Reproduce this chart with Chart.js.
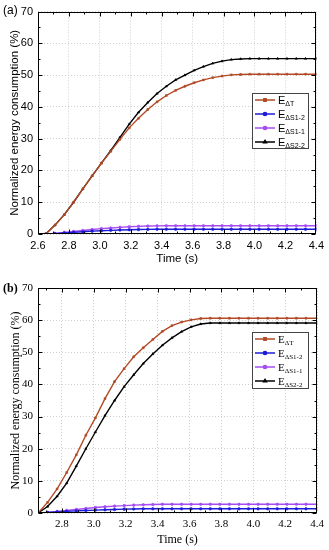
<!DOCTYPE html>
<html>
<head>
<meta charset="utf-8">
<script src="https://cdn.jsdelivr.net/npm/chart.js@4.4.0/dist/chart.umd.min.js"></script>
<style>
  html, body { margin: 0; padding: 0; background: #fff; }
  .panel { position: absolute; left: 0; width: 329px; height: 275px; }
</style>
</head>
<body>
<div class="panel" style="top:0"><canvas id="chartA" width="329" height="275"></canvas></div>
<div class="panel" style="top:275px"><canvas id="chartB" width="329" height="275"></canvas></div>
<script>
// ===== datos =====
const tiempos = [2.65, 2.71, 2.77, 2.83, 2.89, 2.95, 3.01, 3.07, 3.13, 3.19,
                 3.25, 3.31, 3.37, 3.43, 3.49, 3.55, 3.61, 3.67, 3.73, 3.79,
                 3.85, 3.91, 3.97, 4.03, 4.09, 4.15, 4.21, 4.27, 4.33, 4.40];
const subindices = ['ΔT', 'ΔS1-2', 'ΔS1-1', 'ΔS2-2'];

// panel (a)
const aDeltaT  = [0, 2.8, 6.1, 10.0, 14.2, 18.3, 22.3, 26.0, 29.8, 33.4,
                  36.4, 39.2, 41.6, 43.6, 45.2, 46.5, 47.6, 48.5, 49.2, 49.7,
                  50.1, 50.2, 50.3, 50.3, 50.3, 50.3, 50.3, 50.3, 50.3, 50.3];
const aDeltaS12 = [0, 0.1, 0.3, 0.5, 0.7, 0.9, 1.0, 1.15, 1.25, 1.35,
                   1.4, 1.45, 1.5, 1.5, 1.5, 1.5, 1.5, 1.5, 1.5, 1.5,
                   1.5, 1.5, 1.5, 1.5, 1.5, 1.5, 1.5, 1.5, 1.5, 1.5];
const aDeltaS11 = [0, 0.2, 0.5, 0.8, 1.1, 1.4, 1.7, 1.9, 2.1, 2.3,
                   2.4, 2.5, 2.55, 2.6, 2.6, 2.6, 2.6, 2.6, 2.6, 2.6,
                   2.6, 2.6, 2.6, 2.6, 2.6, 2.6, 2.6, 2.6, 2.6, 2.6];
const aDeltaS22 = [0, 2.8, 6.1, 10.0, 14.2, 18.3, 22.3, 26.2, 30.4, 34.6,
                   38.3, 41.4, 44.2, 46.5, 48.5, 50.0, 51.5, 52.7, 53.7, 54.4,
                   54.9, 55.1, 55.2, 55.2, 55.2, 55.2, 55.2, 55.2, 55.2, 55.2];

// panel (b)
const bDeltaT  = [0, 3.3, 7.5, 12.6, 18.1, 24.2, 29.6, 35.6, 40.9, 44.9,
                  48.6, 51.4, 54.0, 56.5, 58.3, 59.4, 60.1, 60.5, 60.6, 60.6,
                  60.6, 60.6, 60.6, 60.6, 60.6, 60.6, 60.6, 60.6, 60.6, 60.6];
const bDeltaS12 = [0, 0.15, 0.3, 0.5, 0.65, 0.8, 0.9, 1.0, 1.1, 1.2,
                   1.25, 1.3, 1.3, 1.3, 1.3, 1.3, 1.3, 1.3, 1.3, 1.3,
                   1.3, 1.3, 1.3, 1.3, 1.3, 1.3, 1.3, 1.3, 1.3, 1.3];
const bDeltaS11 = [0, 0.2, 0.5, 0.8, 1.1, 1.4, 1.7, 1.95, 2.15, 2.3,
                   2.45, 2.55, 2.65, 2.7, 2.7, 2.7, 2.7, 2.7, 2.7, 2.7,
                   2.7, 2.7, 2.7, 2.7, 2.7, 2.7, 2.7, 2.7, 2.7, 2.7];
const bDeltaS22 = [0, 2.0, 5.2, 9.3, 14.6, 20.0, 25.2, 30.3, 35.0, 39.3,
                   43.0, 46.5, 49.5, 52.2, 54.5, 56.4, 57.9, 58.8, 59.1, 59.1,
                   59.1, 59.1, 59.1, 59.1, 59.1, 59.1, 59.1, 59.1, 59.1, 59.1];

// ticks
const xTicksA = [2.6, 2.8, 3.0, 3.2, 3.4, 3.6, 3.8, 4.0, 4.2, 4.4];
const xTicksB = [2.8, 3.0, 3.2, 3.4, 3.6, 3.8, 4.0, 4.2, 4.4];
const yTicks  = [0, 10, 20, 30, 40, 50, 60, 70];

// colores y marcadores de las series
const colores = ['#b24a26', '#1c1cd8', '#a64cf2', '#000000'];
const marcadores = ['rect', 'circle', 'circle', 'triangle'];

// Plugin: marco, ticks hacia dentro, leyenda con subindices y etiqueta del panel
const panelPlugin = {
    id: 'panel',
    afterDraw(chart, args, opts) {
        const ctx = chart.ctx;
        const ca = chart.chartArea;
        const xs = chart.scales.x, ys = chart.scales.y;
        const L = Math.round(ca.left) + 0.5, R = Math.round(ca.right) - 0.5;
        const T = Math.round(ca.top) + 0.5, B = Math.round(ca.bottom) - 0.5;
        ctx.save();
        ctx.strokeStyle = '#000';
        ctx.lineWidth = 1;
        ctx.strokeRect(L, T, R - L, B - T);

        // ticks mayores y menores
        const marcar = (vals, len, horiz) => {
            vals.forEach(v => {
                ctx.beginPath();
                if (horiz) {
                    const p = Math.round(xs.getPixelForValue(v)) + 0.5;
                    if (p < L - 0.5 || p > R + 0.5) return;
                    ctx.moveTo(p, B); ctx.lineTo(p, B - len);
                    ctx.moveTo(p, T); ctx.lineTo(p, T + len);
                } else {
                    const p = Math.round(ys.getPixelForValue(v)) + 0.5;
                    ctx.moveTo(L, p); ctx.lineTo(L + len, p);
                    ctx.moveTo(R, p); ctx.lineTo(R - len, p);
                }
                ctx.stroke();
            });
        };
        const menores = (vals, min, max) => {
            const paso = vals[1] - vals[0];
            const out = [];
            out.push(vals[0] - paso / 2);
            vals.forEach(v => out.push(v + paso / 2));
            return out.filter(v => v > min && v < max);
        };
        const xv = xs.ticks.map(t => t.value);
        const yv = ys.ticks.map(t => t.value);
        marcar(xv, 4, true);
        marcar(yv, 4, false);
        marcar(menores(xv, xs.min, xs.max), 2, true);
        marcar(menores(yv, ys.min, ys.max), 2, false);

        // leyenda
        const lg = opts.legend;
        ctx.fillStyle = '#fff';
        ctx.fillRect(lg.left, lg.top, lg.width, lg.height);
        ctx.strokeStyle = '#444';
        ctx.strokeRect(lg.left + 0.5, lg.top + 0.5, lg.width, lg.height);
        chart.data.datasets.forEach((ds, i) => {
            const yy = lg.top + lg.first + i * lg.row;
            ctx.strokeStyle = ds.borderColor;
            ctx.fillStyle = ds.borderColor;
            ctx.lineWidth = 1.5;
            ctx.beginPath();
            ctx.moveTo(lg.left + 3, yy);
            ctx.lineTo(lg.left + 23, yy);
            ctx.stroke();
            if (Chart.helpers && Chart.helpers.drawPoint) {
                Chart.helpers.drawPoint(ctx, {pointStyle: ds.pointStyle, radius: 1.6, rotation: 0, borderWidth: 1}, lg.left + 13, yy);
            }
            ctx.fillStyle = '#000';
            ctx.textBaseline = 'alphabetic';
            ctx.font = lg.font;
            ctx.fillText('E', lg.left + 26, yy + 4);
            const wE = ctx.measureText('E').width;
            ctx.font = lg.subFont;
            ctx.fillText(subindices[i], lg.left + 26 + wE, yy + 6);
        });

        // etiqueta del panel
        ctx.fillStyle = '#000';
        ctx.font = opts.labelFont;
        ctx.textBaseline = 'alphabetic';
        ctx.fillText(opts.label, 3, opts.labelY);
        ctx.restore();
    }
};

function crearDatasets(series) {
    return series.map((vals, i) => ({
        label: 'E' + subindices[i],
        data: tiempos.map((t, k) => ({x: t, y: vals[k]})),
        borderColor: colores[i],
        backgroundColor: colores[i],
        pointStyle: marcadores[i],
        pointRadius: 1.3,
        pointBorderWidth: 0.6,
        borderWidth: 1.4,
        tension: 0
    }));
}

// Funcion para crear cada panel
function crearGrafico(id, series, cfg) {
    const fuente = {family: cfg.family, size: 11};
    const fuenteTitulo = {family: cfg.family, size: cfg.titleSize};
    return new Chart(document.getElementById(id), {
        type: 'line',
        data: { datasets: crearDatasets(series) },
        plugins: [panelPlugin],
        options: {
            responsive: false,
            animation: false,
            events: [],
            layout: { padding: {top: cfg.padTop, right: 11, left: 0, bottom: 0} },
            plugins: {
                legend: { display: false },
                tooltip: { enabled: false },
                panel: cfg.panel
            },
            scales: {
                x: {
                    type: 'linear',
                    min: cfg.xMin, max: 4.4,
                    afterBuildTicks: s => { s.ticks = cfg.xTicks.map(v => ({value: v})); },
                    afterFit: s => { s.height = cfg.xHeight; },
                    grid: { color: '#cfcfcf', lineWidth: 1, drawTicks: false },
                    border: { display: false, dash: [1, 2] },
                    ticks: {
                        color: '#000', font: fuente, padding: 5, maxRotation: 0,
                        callback: v => Number(v).toFixed(1)
                    },
                    title: {
                        display: true, text: 'Time (s)', color: '#000', font: fuenteTitulo,
                        padding: {top: 0, bottom: cfg.xTitlePad}
                    }
                },
                y: {
                    min: 0, max: 70,
                    afterBuildTicks: s => { s.ticks = yTicks.map(v => ({value: v})); },
                    afterFit: s => { s.width = 38; },
                    grid: { color: '#cfcfcf', lineWidth: 1, drawTicks: false },
                    border: { display: false, dash: [1, 2] },
                    ticks: { color: '#000', font: fuente, padding: 5 },
                    title: {
                        display: true, text: 'Normalized energy consumption (%)', color: '#000', font: fuenteTitulo,
                        padding: {top: cfg.yTitlePad, bottom: 0}
                    }
                }
            }
        }
    });
}

document.addEventListener('DOMContentLoaded', function() {
    crearGrafico('chartA', [aDeltaT, aDeltaS12, aDeltaS11, aDeltaS22], {
        family: "'Liberation Sans', Arial, sans-serif", titleSize: 11.5,
        xMin: 2.6, xTicks: xTicksA, padTop: 9, xHeight: 41, xTitlePad: 9, yTitlePad: 8,
        panel: {
            label: '(a)', labelY: 14, labelFont: "12px 'Liberation Sans', Arial, sans-serif",
            legend: {left: 252, top: 93, width: 56, height: 55, first: 7, row: 14,
                     font: "11px 'Liberation Sans', Arial, sans-serif",
                     subFont: "7px 'Liberation Sans', Arial, sans-serif"}
        }
    });
    crearGrafico('chartB', [bDeltaT, bDeltaS12, bDeltaS11, bDeltaS22], {
        family: "'Liberation Serif', 'Times New Roman', serif", titleSize: 12,
        xMin: 2.65, xTicks: xTicksB, padTop: 13, xHeight: 37, xTitlePad: 3, yTitlePad: 9,
        panel: {
            label: '(b)', labelY: 17, labelFont: "bold 12px 'Liberation Serif', 'Times New Roman', serif",
            legend: {left: 252, top: 57, width: 56, height: 56, first: 7, row: 14,
                     font: "11px 'Liberation Serif', 'Times New Roman', serif",
                     subFont: "7px 'Liberation Serif', 'Times New Roman', serif"}
        }
    });
});
</script>
</body>
</html>
